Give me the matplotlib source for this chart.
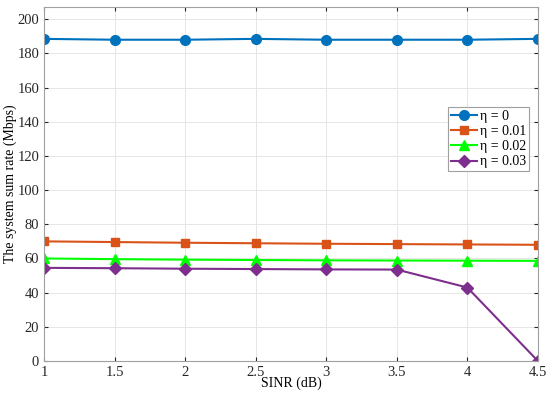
import matplotlib
matplotlib.use('Agg')
import matplotlib.pyplot as plt

plt.rcParams['font.family'] = ['Liberation Serif', 'DejaVu Serif']
plt.rcParams['mathtext.fontset'] = 'stix'

sinr = [1, 1.5, 2, 2.5, 3, 3.5, 4, 4.5]
rate_eta0 = [188.5, 188, 188, 188.5, 188, 188, 188, 188.5]
rate_eta001 = [70, 69.6, 69.2, 68.9, 68.6, 68.4, 68.2, 68.0]
rate_eta002 = [60, 59.6, 59.3, 59.1, 58.9, 58.8, 58.7, 58.6]
rate_eta003 = [54.5, 54.3, 54.0, 53.8, 53.6, 53.5, 43, 0]
labels = ['η = 0', 'η = 0.01', 'η = 0.02', 'η = 0.03']

fig = plt.figure(figsize=(5.5, 3.97), dpi=100)
ax = fig.add_axes([0.08, 0.0907, 0.898, 0.891])

ax.plot(sinr, rate_eta0, '-o', color='#0072BD', lw=1.5, ms=7, label=labels[0])
ax.plot(sinr, rate_eta001, '-s', color='#D95319', lw=1.5, ms=6, label=labels[1])
ax.plot(sinr, rate_eta002, '-^', color='#00FF00', lw=1.5, ms=7, label=labels[2])
ax.plot(sinr, rate_eta003, '-D', color='#7E2F8E', lw=1.5, ms=6, label=labels[3])

ax.set_xlim(1, 4.5)
ax.set_ylim(0, 207)
ax.set_xticks([1, 1.5, 2, 2.5, 3, 3.5, 4, 4.5])
ax.set_xticklabels(['1', '1.5', '2', '2.5', '3', '3.5', '4', '4.5'])
ax.set_yticks(range(0, 201, 20))
ax.grid(True, color='#e6e6e6', lw=0.7)
ax.tick_params(direction='in', top=True, right=True, labelsize=10.5, colors='#262626', length=3)
for s in ax.spines.values():
    s.set_color('#a0a0a0')
ax.set_xlabel('SINR (dB)', fontsize=10, labelpad=-2)
ax.set_ylabel('The system sum rate (Mbps)', fontsize=10, labelpad=0.5)

leg = ax.legend(loc='upper right', bbox_to_anchor=(0.982, 0.717), fontsize=10,
                fancybox=False, edgecolor='#a0a0a0', framealpha=1,
                handlelength=1.9, borderpad=0.2, labelspacing=0.15, handletextpad=0.2,
                borderaxespad=0)
leg.get_frame().set_linewidth(0.8)

fig.savefig('out.png', dpi=100)
